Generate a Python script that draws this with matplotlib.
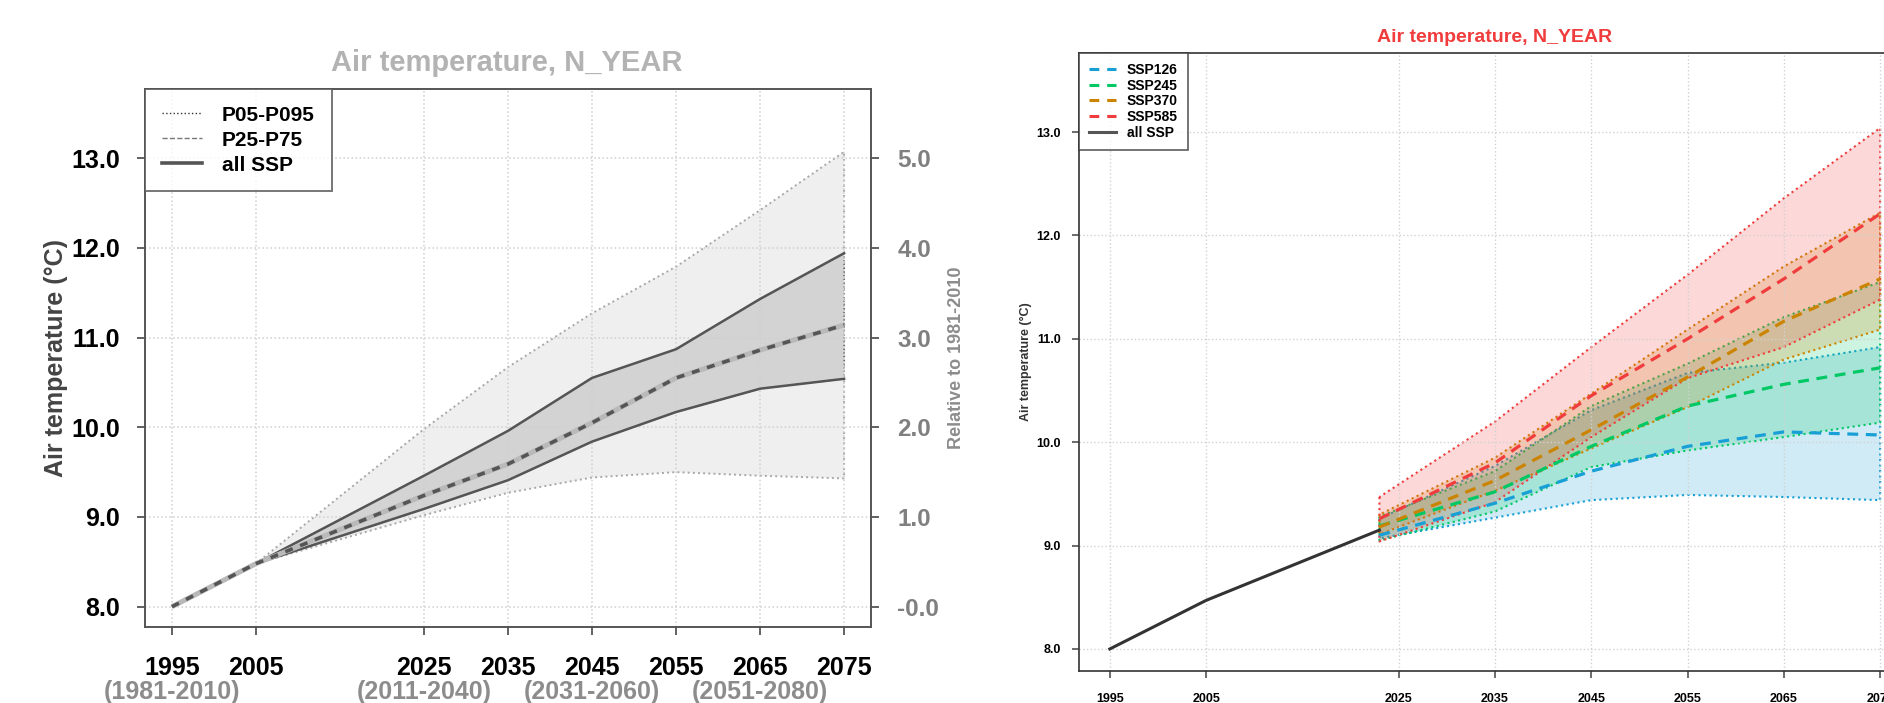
import matplotlib
matplotlib.use("Agg")
import matplotlib.pyplot as plt
import matplotlib.transforms as mtransforms
from matplotlib.colors import to_rgba
from matplotlib.lines import Line2D

plt.rcParams['font.family'] = ['Liberation Sans', 'DejaVu Sans']

# ---- left panel: all-SSP ensemble percentiles (deg C) ----
hist_years = [1995, 2005]
hist_vals = [8.0, 8.48]
proj_years = [2005, 2025, 2035, 2045, 2055, 2065, 2075]
p05 = [8.48, 9.02, 9.27, 9.44, 9.50, 9.46, 9.43]
p25 = [8.48, 9.09, 9.41, 9.84, 10.17, 10.43, 10.54]
p50 = [8.48, 9.24, 9.59, 10.05, 10.55, 10.86, 11.14]
p75 = [8.48, 9.46, 9.96, 10.55, 10.87, 11.43, 11.94]
p95 = [8.48, 9.98, 10.67, 11.27, 11.79, 12.42, 13.07]

year_ticks = [1995, 2005, 2025, 2035, 2045, 2055, 2065, 2075]
period_years = [1995, 2025, 2045, 2065]
period_labels = ['(1981-2010)', '(2011-2040)', '(2031-2060)', '(2051-2080)']
temp_ticks = [8.0, 9.0, 10.0, 11.0, 12.0, 13.0]
rel_ticks = [0, 1, 2, 3, 4, 5]
rel_labels = ['-0.0', '1.0', '2.0', '3.0', '4.0', '5.0']

# ---- right panel: per scenario ----
obs_years = [1995, 2005, 2023]
obs_vals = [8.0, 8.47, 9.15]
scen_years = [2023, 2035, 2045, 2055, 2065, 2075]
scenarios = ['SSP126', 'SSP245', 'SSP370', 'SSP585']
scen_med = {
    'SSP126': [9.10, 9.41, 9.72, 9.96, 10.10, 10.07],
    'SSP245': [9.19, 9.52, 9.96, 10.35, 10.56, 10.72],
    'SSP370': [9.18, 9.63, 10.12, 10.63, 11.17, 11.58],
    'SSP585': [9.26, 9.80, 10.45, 11.00, 11.58, 12.21],
}
scen_lo = {
    'SSP126': [9.07, 9.27, 9.44, 9.49, 9.47, 9.44],
    'SSP245': [9.05, 9.33, 9.76, 9.92, 10.05, 10.19],
    'SSP370': [9.11, 9.53, 9.94, 10.34, 10.80, 11.09],
    'SSP585': [9.04, 9.42, 10.05, 10.62, 10.92, 11.38],
}
scen_hi = {
    'SSP126': [9.26, 9.77, 10.31, 10.67, 10.77, 10.92],
    'SSP245': [9.28, 9.72, 10.35, 10.76, 11.21, 11.55],
    'SSP370': [9.30, 9.85, 10.47, 11.09, 11.70, 12.22],
    'SSP585': [9.47, 10.20, 10.92, 11.62, 12.36, 13.04],
}
scen_colors = {'SSP126': '#179fd6', 'SSP245': '#00c864',
               'SSP370': '#cc8400', 'SSP585': '#f03c3c'}

fig = plt.figure(figsize=(18.84, 7.03), dpi=100)

# ================= left panel =================
ax = fig.add_axes([0.07696, 0.1081, 0.38535, 0.7653])
ax.set_xlim(1991.8, 2078.2)
ax.set_ylim(7.774, 13.77)
ax.set_axisbelow('line')
ax.grid(True, color='#cfcfcf', linestyle=':', linewidth=1.1)

ax.fill_between(proj_years, p05, p95, facecolor='#efefef',
                edgecolor='#a8a8a8', linestyle=':', linewidth=1.4, zorder=1)
ax.fill_between(proj_years, p25, p75, facecolor='#d3d3d3',
                edgecolor='#555555', linestyle=':', linewidth=1.0, zorder=1.1)
ax.plot(proj_years, p25, color='#555555', lw=1.8, zorder=3)
ax.plot(proj_years, p75, color='#555555', lw=1.8, zorder=3)
for xs, ys in [(hist_years, hist_vals), (proj_years, p50)]:
    ax.plot(xs, ys, color='#b9b9b9', lw=3.6, zorder=3, solid_capstyle='butt')
    ax.plot(xs, ys, color='#555555', lw=2.6, zorder=4, dashes=(2.2, 2.2))

for s in ax.spines.values():
    s.set_color('#555555')
    s.set_linewidth(1.4)
ax.set_xticks(year_ticks)
ax.set_xticklabels([str(y) for y in year_ticks], fontsize=18, fontweight='bold')
ax.set_yticks(temp_ticks)
ax.set_yticklabels(['%.1f' % t for t in temp_ticks], fontsize=18, fontweight='bold')
ax.tick_params(axis='x', length=6, width=1.3, color='#555555', pad=15)
ax.tick_params(axis='y', length=6, width=1.3, color='#555555', pad=12)
ax.set_ylabel('Air temperature (°C)', fontsize=18, fontweight='bold', color='#444444')
ax.yaxis.set_label_coords(-0.106, 0.5)

trans_fig_y = mtransforms.blended_transform_factory(ax.transData, fig.transFigure)
for yr, lab in zip(period_years, period_labels):
    ax.text(yr, 0.0156, lab, transform=trans_fig_y, ha='center', va='center',
            fontsize=18, fontweight='bold', color='#8c8c8c', clip_on=False)

ax2 = ax.twinx()
ax2.set_ylim(7.774 - 8.0, 13.77 - 8.0)
ax2.set_yticks(rel_ticks)
ax2.set_yticklabels(rel_labels, fontsize=17.5, fontweight='bold', color='#808080')
ax2.tick_params(axis='y', length=6, width=1.3, color='#555555', pad=13)
for s in ax2.spines.values():
    s.set_visible(False)
ax2.set_ylabel('Relative to 1981-2010', fontsize=13, fontweight='bold', color='#8c8c8c')
ax2.yaxis.set_label_coords(1.106, 0.5)

fig.text(507 / 1884, 1 - 63 / 703, 'Air temperature, N_YEAR', ha='center', va='center',
         fontsize=21, fontweight='bold', color='#b3b3b3')

left_handles = [
    Line2D([], [], color='#333333', lw=1.0, linestyle=':'),
    Line2D([], [], color='#777777', lw=1.0, linestyle='--'),
    Line2D([], [], color='#555555', lw=2.6),
]
leg = ax.legend(left_handles, ['P05-P095', 'P25-P75', 'all SSP'], loc='upper left',
                bbox_to_anchor=(0, 1), borderaxespad=0, fancybox=False,
                prop={'size': 15, 'weight': 'bold'}, handlelength=1.95,
                handletextpad=0.95, labelspacing=0.29, borderpad=0.8)
leg.get_frame().set_edgecolor('#555555')
leg.get_frame().set_linewidth(1.4)
leg.set_zorder(10)

# ================= right panel =================
bx = fig.add_axes([0.5727, 0.04552, 0.44161, 0.8798])
bx.set_xlim(1991.8, 2078.2)
bx.set_ylim(7.787, 13.77)
bx.set_axisbelow('line')
bx.grid(True, color='#d2d2d2', linestyle=':', linewidth=1.0)

for sc in scenarios:
    c = scen_colors[sc]
    bx.fill_between(scen_years, scen_lo[sc], scen_hi[sc], facecolor=to_rgba(c, 0.2),
                    edgecolor=c, linestyle=':', linewidth=1.5, zorder=1)
bx.plot(obs_years, obs_vals, color='#333333', lw=2.2, zorder=3)
for sc in scenarios:
    bx.plot(scen_years, scen_med[sc], color=scen_colors[sc], lw=2.3,
            dashes=(3.4, 2.4), zorder=4)

for s in bx.spines.values():
    s.set_color('#333333')
    s.set_linewidth(1.2)
bx.set_xticks(year_ticks)
bx.set_xticklabels([str(y) for y in year_ticks], fontsize=9, fontweight='bold')
bx.set_yticks(temp_ticks)
bx.set_yticklabels(['%.1f' % t for t in temp_ticks], fontsize=9, fontweight='bold')
bx.tick_params(axis='both', length=5, width=1.1, color='#444444')
bx.tick_params(axis='x', pad=11)
bx.tick_params(axis='y', pad=8)
bx.set_ylabel('Air temperature (°C)', fontsize=9, fontweight='bold', color='#333333')
bx.yaxis.set_label_coords(-0.057, 0.5)

fig.text(1495 / 1884, 1 - 37 / 703, 'Air temperature, N_YEAR', ha='center', va='center',
         fontsize=14, fontweight='bold', color='#f03c3c')

right_handles = [Line2D([], [], color=scen_colors[sc], lw=2.2, dashes=(3.2, 2.6))
                 for sc in scenarios]
right_handles.append(Line2D([], [], color='#555555', lw=2.2))
leg2 = bx.legend(right_handles, scenarios + ['all SSP'], loc='upper left',
                 bbox_to_anchor=(0, 1), borderaxespad=0, fancybox=False,
                 prop={'size': 10, 'weight': 'bold'}, handlelength=1.95,
                 handletextpad=0.75, labelspacing=0.12, borderpad=0.75)
leg2.get_frame().set_edgecolor('#333333')
leg2.get_frame().set_linewidth(1.2)
leg2.set_zorder(10)

fig.savefig('out.png', dpi=100)
